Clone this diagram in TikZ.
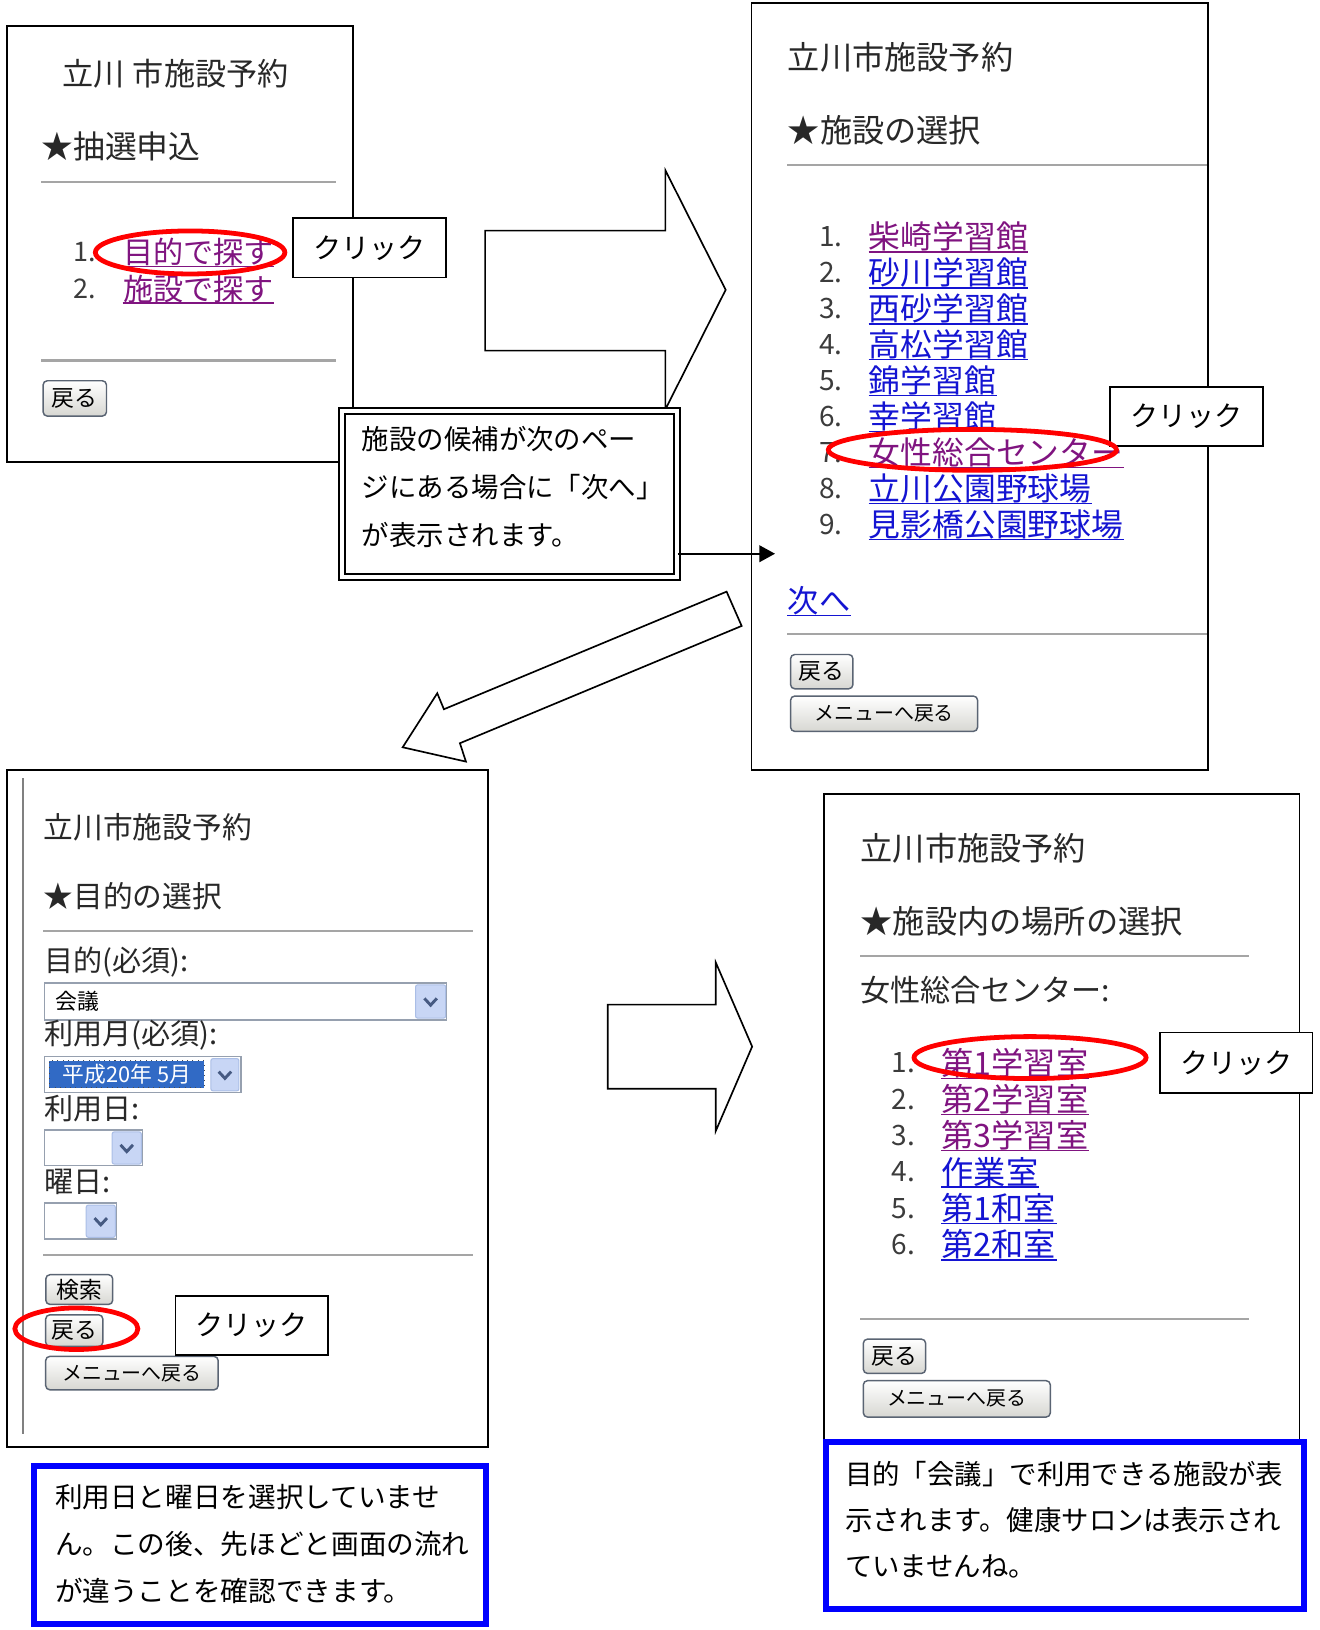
\documentclass[tikz,border=0pt]{standalone}
\usepackage{fontspec}
\setmainfont{Noto Sans CJK JP}
\usetikzlibrary{shapes.geometric,arrows.meta}
\definecolor{lnkblue}{RGB}{20,20,210}
\definecolor{lnkpurp}{RGB}{128,20,128}
\definecolor{hlblue}{RGB}{49,106,197}
\definecolor{ddfill}{RGB}{200,214,245}
\definecolor{ddedge}{RGB}{170,190,230}
\definecolor{ddarrow}{RGB}{70,90,130}
\definecolor{rulegray}{RGB}{165,165,165}
\definecolor{txtgray}{RGB}{40,40,40}
\definecolor{numgray}{RGB}{60,60,60}
\definecolor{btnedge}{RGB}{90,100,115}
\definecolor{btnbot}{RGB}{215,215,210}
\definecolor{seledge}{RGB}{150,160,175}
\definecolor{boxblue}{RGB}{0,0,255}
\newcommand\fsz[2]{\fontsize{#1}{#2}\selectfont}
\newcommand\chevron[1]{\draw[chev] ([shift={(-6,-3)}]#1.center) -- ([shift={(0,3.5)}]#1.center) -- ([shift={(6,-3)}]#1.center);}
\begin{document}
\begin{tikzpicture}[x=0.5pt,y=-0.5pt,
  frame/.style={draw=black,line width=0.8pt},
  rule/.style={draw=rulegray,line width=1pt},
  tx/.style={anchor=west,inner sep=0pt,text=txtgray},
  num/.style={anchor=west,inner sep=0pt,text=numgray},
  lnk/.style={anchor=west,inner sep=0pt},
  ul/.style={line width=0.6pt},
  btn/.style={draw=btnedge,line width=0.7pt,rounded corners=2pt,top color=white,bottom color=btnbot,inner sep=0pt,text=black},
  sel/.style={draw=seledge,line width=0.7pt,fill=white,inner sep=0pt},
  ddbtn/.style={draw=ddedge,line width=0.5pt,fill=ddfill,rounded corners=1pt,inner sep=0pt},
  chev/.style={draw=ddarrow,line width=1.4pt},
  clickbox/.style={draw=black,line width=0.8pt,fill=white,inner sep=0pt,minimum width=73.5pt,minimum height=28.5pt,font=\fsz{13.5pt}{16pt},text=black},
  hl/.style={ellipse,draw=red,line width=2.3pt,inner sep=0pt},
  blockarrow/.style={draw=black,line width=0.8pt,fill=white,line join=miter},
  callout/.style={draw=black,line width=0.9pt,double=white,double distance=2pt,fill=white,inner sep=0pt},
  notebox/.style={draw=boxblue,line width=3pt,fill=white,inner sep=0pt},
  conn/.style={draw=black,line width=0.8pt,-{Triangle[length=7.5pt,width=8pt]}}
]
\useasboundingbox[fill=white] (0,0) rectangle (1270,1569);

% ---------------- Panel 1 ----------------
\draw[frame] (7,25) rectangle (339.5,445);
\node[tx,font=\fsz{15pt}{15pt}] (p1title) at (60,71) {立川\hspace{0.25em}市施設予約};
\node[tx,font=\fsz{15.3pt}{15.3pt}] (p1head) at (39.5,141) {★抽選申込};
\draw[rule] (39.5,175) -- (323,175);
\node[num,font=\fsz{13pt}{13pt}] (p1n1) at (70,243) {1.};
\node[lnk,text=lnkpurp,font=\fsz{14.5pt}{14.5pt}] (p1l1) at (118,243) {目的で探す};
\draw[lnkpurp,ul] (p1l1.south west) -- (p1l1.south east);
\node[num,font=\fsz{13pt}{13pt}] (p1n2) at (70,278) {2.};
\node[lnk,text=lnkpurp,font=\fsz{14.5pt}{14.5pt}] (p1l2) at (118,278) {施設で探す};
\draw[lnkpurp,ul] (p1l2.south west) -- (p1l2.south east);
\draw[rule] (39.5,347) -- (323,347);
\node[btn,minimum width=30.5pt,minimum height=17pt,font=\fsz{11pt}{11pt}] (p1back) at (72,383.5) {戻る};

% ---------------- Panel 2 ----------------
\draw[frame] (723.5,3) rectangle (1163,741);
\node[tx,font=\fsz{15.5pt}{15.5pt}] (p2title) at (758,55) {立川市施設予約};
\node[tx,font=\fsz{15.5pt}{15.5pt}] (p2head) at (758,125) {★施設の選択};
\draw[rule] (758,159) -- (1162,159);
\foreach \i/\t/\c in {1/柴崎学習館/lnkpurp,2/砂川学習館/lnkblue,3/西砂学習館/lnkblue,4/高松学習館/lnkblue,5/錦学習館/lnkblue,6/幸学習館/lnkblue,7/女性総合センター/lnkpurp,8/立川公園野球場/lnkblue,9/見影橋公園野球場/lnkblue}{
  \node[num,font=\fsz{13.5pt}{13.5pt}] (p2n\i) at (788,{228+(\i-1)*34.6}) {\i.};
  \node[lnk,text=\c,font=\fsz{15.3pt}{15.3pt}] (p2l\i) at (836,{228+(\i-1)*34.6}) {\t};
  \draw[\c,ul] (p2l\i.south west) -- (p2l\i.south east);
}
\node[lnk,text=lnkblue,font=\fsz{15pt}{15pt}] (p2next) at (758,578) {次へ};
\draw[lnkblue,ul] (p2next.south west) -- (p2next.south east);
\draw[rule] (758,610) -- (1162,610);
\node[btn,minimum width=30pt,minimum height=16.5pt,font=\fsz{11pt}{11pt}] (p2back) at (791,646.5) {戻る};
\node[btn,minimum width=90pt,minimum height=17pt,font=\fsz{9.6pt}{9.6pt}] (p2menu) at (851,687) {メニューへ戻る};

% ---------------- Panel 3 ----------------
\draw[frame] (7,741) rectangle (470,1393);
\draw[draw=gray,line width=1pt] (22.5,749) -- (22.5,1380);
\node[tx,font=\fsz{14.3pt}{14.3pt}] (p3title) at (41.7,796) {立川市施設予約};
\node[tx,font=\fsz{14.3pt}{14.3pt}] (p3head) at (41.7,862.7) {★目的の選択};
\draw[rule] (41.7,896) -- (455,896);
\node[tx,font=\fsz{14pt}{14pt}] (p3lab1) at (42,926.5) {目的(必須):};
\node[sel,minimum width=193.6pt,minimum height=17.8pt] (p3sel1) at (236.4,963.9) {};
\node[tx,text=black,font=\fsz{10.5pt}{10.5pt}] (p3val1) at (53,963.6) {会議};
\node[ddbtn,minimum width=14.5pt,minimum height=16pt] (p3dd1) at (414.5,964) {};
\chevron{p3dd1}
\node[tx,font=\fsz{14pt}{14pt}] (p3lab2) at (42,996) {利用月(必須):};
\node[sel,minimum width=94.6pt,minimum height=17.2pt] (p3sel2) at (137.4,1034.3) {};
\node[fill=hlblue,draw=black!70,dotted,line width=0.5pt,inner sep=0pt,minimum width=74.4pt,minimum height=13pt,text=white,font=\fsz{10.5pt}{10.5pt}] (p3val2) at (122,1034) {平成20年 5月};
\node[ddbtn,minimum width=13.5pt,minimum height=15.5pt] (p3dd2) at (216.5,1034.5) {};
\chevron{p3dd2}
\node[tx,font=\fsz{14pt}{14pt}] (p3lab3) at (42,1067) {利用日:};
\node[sel,minimum width=47.2pt,minimum height=17.2pt] (p3sel3) at (89.9,1104.8) {};
\node[ddbtn,minimum width=14pt,minimum height=15.5pt] (p3dd3) at (122,1105) {};
\chevron{p3dd3}
\node[tx,font=\fsz{14pt}{14pt}] (p3lab4) at (42,1137.6) {曜日:};
\node[sel,minimum width=34.7pt,minimum height=17.2pt] (p3sel4) at (77.4,1175.3) {};
\node[ddbtn,minimum width=14pt,minimum height=15.5pt] (p3dd4) at (97,1175.5) {};
\chevron{p3dd4}
\draw[rule] (41.7,1208) -- (455,1208);
\node[btn,minimum width=32.2pt,minimum height=14.3pt,font=\fsz{11pt}{11pt}] (p3search) at (76.3,1241.3) {検索};
\node[btn,minimum width=27.5pt,minimum height=15.2pt,font=\fsz{11pt}{11pt}] (p3back) at (71.5,1280.8) {戻る};
\node[btn,minimum width=83pt,minimum height=16.1pt,font=\fsz{9.6pt}{9.6pt}] (p3menu) at (127,1321.7) {メニューへ戻る};

% ---------------- Panel 4 ----------------
\draw[frame] (793,764) rectangle (1251,1390);
\node[tx,font=\fsz{15.5pt}{15.5pt}] (p4title) at (828,816.5) {立川市施設予約};
\node[tx,font=\fsz{15.5pt}{15.5pt}] (p4head) at (828,887) {★施設内の場所の選択};
\draw[rule] (828,920) -- (1202,920);
\node[tx,font=\fsz{14.5pt}{14.5pt}] (p4lab) at (828,953) {女性総合センター:};
\foreach \i/\t/\c in {1/第1学習室/lnkpurp,2/第2学習室/lnkpurp,3/第3学習室/lnkpurp,4/作業室/lnkblue,5/第1和室/lnkblue,6/第2和室/lnkblue}{
  \node[num,font=\fsz{13.5pt}{13.5pt}] (p4n\i) at (858,{1023+(\i-1)*35}) {\i.};
  \node[lnk,text=\c,font=\fsz{15.5pt}{15.5pt}] (p4l\i) at (906,{1023+(\i-1)*35}) {\t};
  \draw[\c,ul] (p4l\i.south west) -- (p4l\i.south east);
}
\draw[rule] (828,1270) -- (1202,1270);
\node[btn,minimum width=30pt,minimum height=16.5pt,font=\fsz{11pt}{11pt}] (p4back) at (861,1305.5) {戻る};
\node[btn,minimum width=90pt,minimum height=17.5pt,font=\fsz{9.6pt}{9.6pt}] (p4menu) at (921,1346.5) {メニューへ戻る};

% ---------------- Block arrows ----------------
\draw[blockarrow] (467,222) -- (640.5,222) -- (640.5,164) -- (698.5,279) -- (640.5,394) -- (640.5,337.5) -- (467,337.5) -- cycle;
\draw[blockarrow] (585,967) -- (689,967) -- (689,926.5) -- (724,1007.4) -- (689,1088.6) -- (689,1048) -- (585,1048) -- cycle;
\draw[blockarrow] (699.4,569.5) -- (713.9,602.5) -- (442.7,715.4) -- (448.5,733.1) -- (387.6,719.3) -- (420.9,667.3) -- (427.3,682.7) -- cycle;

% ---------------- Callout ----------------
\node[callout,minimum width=161.2pt,minimum height=79.7pt] (callout) at (490.5,475.5) {};
\node[tx,text=black,align=left,font=\fsz{13.2pt}{23pt}] (callouttext) at (348,469) {施設の候補が次のペー\\ジにある場合に「次へ」\\が表示されます。};
\coordinate (p2arrowend) at (746,533);
\draw[conn] (callout.east |- p2arrowend) -- (p2arrowend);

% ---------------- Note boxes ----------------
\node[notebox,minimum width=217.5pt,minimum height=76pt] (note3) at (250.5,1487) {};
\node[tx,text=black,align=left,font=\fsz{13.3pt}{22.5pt}] (note3text) at (52.6,1486) {利用日と曜日を選択していませ\\ん。この後、先ほどと画面の流れ\\が違うことを確認できます。};
\node[notebox,minimum width=230pt,minimum height=80.5pt] (note4) at (1025,1468.5) {};
\node[tx,text=black,align=left,font=\fsz{13.2pt}{22pt}] (note4text) at (813,1463) {目的「会議」で利用できる施設が表\\示されます。健康サロンは表示され\\ていませんね。};

% ---------------- Click labels ----------------
\node[clickbox] (click1) at (355.5,238.5) {クリック};
\node[clickbox] (click2) at (1142,401) {クリック};
\node[clickbox] (click3) at (242.5,1275.7) {クリック};
\node[clickbox,minimum height=29pt] (click4) at (1190,1023) {クリック};

% ---------------- Red highlight ellipses ----------------
\node[hl,minimum width=91.2pt,minimum height=20.7pt] (ring1) at (183,243) {};
\node[hl,minimum width=138.7pt,minimum height=19.7pt] (ring2) at (936,433) {};
\node[hl,minimum width=59.2pt,minimum height=20pt] (ring3) at (73.5,1279) {};
\node[hl,minimum width=111.7pt,minimum height=20.2pt] (ring4) at (991.5,1018) {};
\end{tikzpicture}
\end{document}
